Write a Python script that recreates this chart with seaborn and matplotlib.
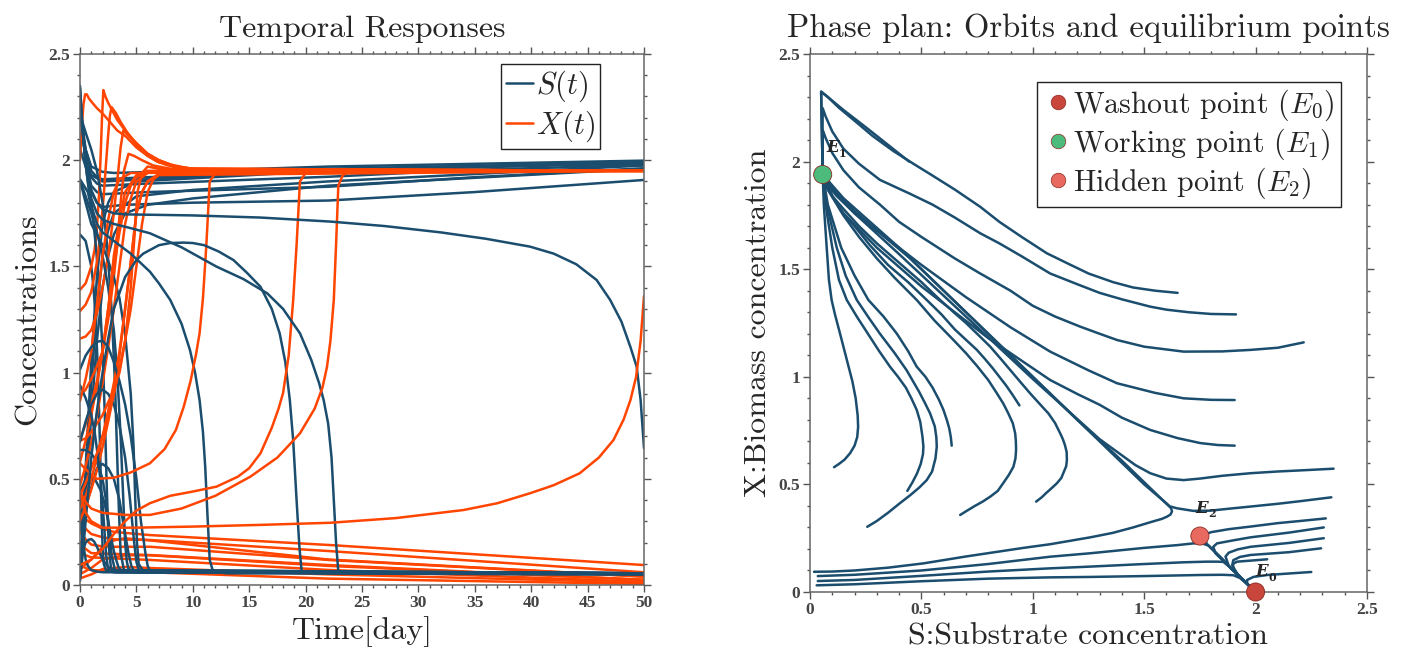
import numpy as np
import pandas as pd
import matplotlib
matplotlib.use("Agg")
import matplotlib.pyplot as plt
import seaborn as sns
from matplotlib.ticker import MultipleLocator, FuncFormatter
from matplotlib.lines import Line2D
from matplotlib.font_manager import FontProperties

# ---------------------------------------------------------------- colours
S_COLOR = "#1b4d6e"
X_COLOR = "#ff4500"
E_COLORS = ["#c9463d", "#4dbb7c", "#e8695f"]

# ---------------------------------------------------------------- equilibria
eq_S = [2.0, 0.057, 1.75]
eq_X = [0.0, 1.94, 0.26]
eq_names = ["Washout point", "Working point", "Hidden point"]
eq_tags = ["0", "1", "2"]

# ---------------------------------------------------------------- phase-plane orbits (S, X)
# orbits starting above the separatrix on the right and ending at E1
orbits_upper = [
    ([0.445, 0.35, 0.25, 0.15, 0.08, 0.05, 0.052, 0.055, 0.057],
     [2.0, 2.078, 2.16, 2.24, 2.30, 2.325, 2.2, 2.05, 1.94]),
    ([1.65, 1.55, 1.45, 1.36, 1.25, 1.15, 1.063, 0.95, 0.85, 0.764, 0.65, 0.55, 0.464, 0.373,
      0.28, 0.2, 0.13, 0.08, 0.05, 0.052, 0.055, 0.057],
     [1.39, 1.40, 1.415, 1.44, 1.48, 1.53, 1.574, 1.65, 1.72, 1.79, 1.87, 1.935, 1.99, 2.05,
      2.12, 2.19, 2.25, 2.30, 2.325, 2.2, 2.05, 1.94]),
    ([1.912, 1.8, 1.7, 1.6, 1.527, 1.4, 1.3, 1.2, 1.078, 0.95, 0.85, 0.764, 0.65, 0.55, 0.45,
      0.314, 0.22, 0.15, 0.1, 0.07, 0.057, 0.056, 0.057],
     [1.29, 1.292, 1.30, 1.312, 1.326, 1.36, 1.39, 1.43, 1.48, 1.56, 1.62, 1.667, 1.74, 1.80, 1.85,
      1.915, 1.99, 2.06, 2.14, 2.21, 2.248, 2.1, 1.94]),
    ([2.216, 2.1, 1.977, 1.85, 1.677, 1.5, 1.378, 1.3, 1.213, 1.1, 1.0, 0.9, 0.764, 0.65, 0.5,
      0.4, 0.314, 0.22, 0.15, 0.1, 0.07, 0.057, 0.057],
     [1.16, 1.135, 1.125, 1.118, 1.117, 1.14, 1.171, 1.2, 1.233, 1.28, 1.33, 1.40, 1.48, 1.55, 1.65,
      1.72, 1.80, 1.88, 1.96, 2.04, 2.11, 2.147, 1.94]),
    ([1.906, 1.8, 1.677, 1.55, 1.378, 1.25, 1.078, 0.9, 0.7, 0.5, 0.3, 0.2, 0.12, 0.08, 0.057],
     [0.892, 0.893, 0.9, 0.925, 0.97, 1.03, 1.117, 1.23, 1.37, 1.52, 1.68, 1.76, 1.84, 1.89, 1.94]),
    ([1.906, 1.83, 1.752, 1.65, 1.527, 1.4, 1.3, 1.2, 1.078, 0.8, 0.5, 0.3, 0.15, 0.08, 0.057],
     [0.68, 0.683, 0.692, 0.715, 0.753, 0.81, 0.87, 0.92, 0.985, 1.18, 1.42, 1.60, 1.76, 1.87, 1.94]),
    ([2.35, 2.2, 2.1, 1.977, 1.85, 1.75, 1.677, 1.6, 1.527, 1.46, 1.4, 1.3, 1.0, 0.7, 0.4, 0.2, 0.1, 0.057],
     [0.573, 0.565, 0.56, 0.552, 0.54, 0.527, 0.52, 0.527, 0.552, 0.59, 0.635, 0.71, 0.99, 1.28, 1.57,
      1.76, 1.87, 1.94]),
    ([2.34, 2.2, 2.1, 1.977, 1.88, 1.797, 1.72, 1.647, 1.615, 1.602, 1.5, 1.2, 0.8, 0.4, 0.15, 0.057],
     [0.44, 0.422, 0.41, 0.397, 0.387, 0.378, 0.377, 0.389, 0.398, 0.41, 0.5, 0.8, 1.2, 1.6, 1.83, 1.94]),
]

# orbits starting inside the basin of E1 (hook shaped)
orbits_inner = [
    ([0.108, 0.13, 0.155, 0.18, 0.2, 0.212, 0.216, 0.214, 0.205, 0.19, 0.17, 0.135, 0.112, 0.097, 0.085,
      0.075, 0.062, 0.057],
     [0.58, 0.595, 0.615, 0.645, 0.68, 0.72, 0.768, 0.82, 0.90, 0.98, 1.06, 1.2, 1.29, 1.357, 1.45,
      1.6, 1.8, 1.94]),
    ([0.437, 0.46, 0.48, 0.497, 0.507, 0.509, 0.505, 0.495, 0.479, 0.455, 0.43, 0.395, 0.359, 0.31, 0.26,
      0.21, 0.165, 0.13, 0.10, 0.07, 0.057],
     [0.47, 0.51, 0.55, 0.595, 0.64, 0.675, 0.72, 0.79, 0.846, 0.9, 0.95, 1.0, 1.047, 1.12, 1.2,
      1.28, 1.357, 1.45, 1.6, 1.8, 1.94]),
    ([0.257, 0.3, 0.35, 0.404, 0.45, 0.49, 0.524, 0.548, 0.563, 0.569, 0.567, 0.56, 0.539, 0.515, 0.49,
      0.462, 0.434, 0.38, 0.314, 0.26, 0.21, 0.16, 0.12, 0.075, 0.057],
     [0.303, 0.33, 0.368, 0.413, 0.45, 0.485, 0.52, 0.56, 0.62, 0.675, 0.72, 0.77, 0.83, 0.88, 0.93,
      0.98, 1.03, 1.11, 1.2, 1.28, 1.357, 1.47, 1.6, 1.8, 1.94]),
    ([0.636, 0.632, 0.625, 0.614, 0.599, 0.578, 0.55, 0.518, 0.479, 0.44, 0.39, 0.33, 0.262, 0.2, 0.14,
      0.08, 0.057],
     [0.68, 0.72, 0.76, 0.80, 0.846, 0.895, 0.95, 1.0, 1.047, 1.12, 1.2, 1.28, 1.357, 1.47, 1.6,
      1.8, 1.94]),
    ([0.674, 0.705, 0.74, 0.775, 0.809, 0.843, 0.87, 0.893, 0.913, 0.922, 0.925, 0.924, 0.921, 0.91,
      0.89, 0.868, 0.839, 0.8, 0.75, 0.7, 0.644, 0.56, 0.479, 0.38, 0.3, 0.22, 0.15, 0.08, 0.057],
     [0.358, 0.378, 0.40, 0.42, 0.443, 0.47, 0.51, 0.545, 0.582, 0.62, 0.66, 0.70, 0.737, 0.785,
      0.83, 0.875, 0.923, 0.985, 1.05, 1.11, 1.171, 1.26, 1.357, 1.46, 1.55, 1.65, 1.75, 1.87, 1.94]),
    ([0.94, 0.91, 0.88, 0.85, 0.82, 0.785, 0.749, 0.70, 0.65, 0.59, 0.524, 0.44, 0.35, 0.27, 0.2, 0.14,
      0.1, 0.057],
     [0.867, 0.915, 0.96, 1.0, 1.04, 1.083, 1.125, 1.172, 1.22, 1.29, 1.357, 1.44, 1.52, 1.61, 1.7, 1.77,
      1.84, 1.94]),
    ([1.015, 1.04, 1.06, 1.085, 1.108, 1.128, 1.14, 1.15, 1.153, 1.152, 1.145, 1.135, 1.123, 1.1, 1.07,
      1.03, 0.988, 0.945, 0.9, 0.855, 0.809, 0.755, 0.7, 0.645, 0.584, 0.5, 0.4, 0.3, 0.22, 0.15, 0.1,
      0.057],
     [0.42, 0.44, 0.46, 0.483, 0.505, 0.53, 0.56, 0.585, 0.613, 0.65, 0.68, 0.71, 0.737, 0.785, 0.83,
      0.875, 0.923, 0.975, 1.03, 1.085, 1.14, 1.195, 1.25, 1.30, 1.357, 1.44, 1.53, 1.62, 1.7, 1.78,
      1.84, 1.94]),
]

# orbits starting near the S axis with little biomass
orbits_lowleft = [
    ([0.018, 0.1, 0.2, 0.35, 0.509, 0.7, 0.958, 1.078, 1.258, 1.36, 1.45, 1.53, 1.58, 1.602, 1.618,
      1.625, 1.62, 1.6, 1.5, 1.4, 1.2, 1.0, 0.8, 0.6, 0.45, 0.3, 0.2, 0.12, 0.08, 0.057],
     [0.094, 0.095, 0.10, 0.113, 0.133, 0.165, 0.205, 0.222, 0.254, 0.275, 0.30, 0.325, 0.34, 0.35, 0.36,
      0.375, 0.39, 0.41, 0.51, 0.61, 0.80, 1.0, 1.2, 1.4, 1.55, 1.68, 1.77, 1.86, 1.9, 1.94]),
    ([0.035, 0.2, 0.5, 0.8, 1.078, 1.258, 1.5, 1.65, 1.722, 1.76, 1.79, 1.85, 1.9, 1.95, 1.99],
     [0.074, 0.08, 0.10, 0.13, 0.164, 0.18, 0.205, 0.218, 0.226, 0.226, 0.215, 0.155, 0.1, 0.05, 0.01]),
    ([0.035, 0.2, 0.5, 0.8, 1.078, 1.258, 1.5, 1.677, 1.78, 1.827, 1.855, 1.88, 1.93, 1.99],
     [0.051, 0.056, 0.075, 0.095, 0.11, 0.118, 0.13, 0.138, 0.141, 0.141, 0.14, 0.12, 0.07, 0.01]),
    ([0.03, 0.2, 0.5, 0.8, 1.078, 1.258, 1.5, 1.752, 1.85, 1.90, 1.93, 1.96, 1.99],
     [0.031, 0.036, 0.05, 0.062, 0.068, 0.07, 0.074, 0.079, 0.08, 0.078, 0.065, 0.04, 0.01]),
]

# orbits starting on the right below the separatrix, ending at E0
orbits_washout = [
    ([2.315, 2.2, 2.1, 1.977, 1.88, 1.8, 1.767, 1.78, 1.85, 1.95, 1.99],
     [0.342, 0.33, 0.32, 0.304, 0.292, 0.278, 0.265, 0.225, 0.15, 0.05, 0.01]),
    ([2.306, 2.15, 1.977, 1.9, 1.827, 1.81, 1.82, 1.9, 1.99],
     [0.30, 0.276, 0.254, 0.24, 0.226, 0.21, 0.18, 0.1, 0.01]),
    ([2.306, 2.15, 1.977, 1.92, 1.88, 1.865, 1.88, 1.95, 1.99],
     [0.25, 0.228, 0.21, 0.198, 0.183, 0.165, 0.12, 0.05, 0.01]),
    ([2.294, 2.15, 1.977, 1.93, 1.9, 1.895, 1.92, 1.99],
     [0.203, 0.185, 0.172, 0.163, 0.148, 0.125, 0.08, 0.01]),
    ([2.052, 1.98, 1.917, 1.9, 1.898, 1.93, 1.99],
     [0.152, 0.146, 0.141, 0.132, 0.11, 0.07, 0.01]),
    ([2.25, 2.15, 2.052, 1.99, 1.962, 1.962, 1.98, 2.0],
     [0.093, 0.086, 0.079, 0.07, 0.056, 0.04, 0.02, 0.0]),
]

# ---------------------------------------------------------------- temporal responses (t, value)
# each entry: (t for S, S, t for X, X)
runs_fast = [
    ([0, 0.1, 0.2, 0.35, 0.5, 0.7, 1, 1.5, 2, 50], [0.445, 0.33, 0.25, 0.17, 0.12, 0.09, 0.07, 0.063, 0.06, 0.055],
     [0, 0.1, 0.2, 0.3, 0.45, 0.6, 0.8, 1.1, 1.5, 2.0, 2.66, 3.3, 4.1, 5.0, 5.9, 6.8, 7.7, 8.8, 10, 12, 14, 50],
     [2.0, 2.1, 2.19, 2.26, 2.31, 2.31, 2.29, 2.27, 2.245, 2.22, 2.18, 2.14, 2.11, 2.06, 2.024, 1.995,
      1.977, 1.962, 1.955, 1.951, 1.95, 1.95]),
    ([0, 0.5, 1, 1.2, 1.4, 1.55, 1.7, 1.8, 1.9, 2.0, 2.1, 2.3, 3, 50],
     [1.65, 1.62, 1.5, 1.4, 1.25, 1.05, 0.8, 0.6, 0.35, 0.18, 0.1, 0.07, 0.06, 0.055],
     [0, 0.5, 1, 1.3, 1.5, 1.7, 1.85, 1.95, 2.07, 2.25, 2.5, 2.8, 3.3, 4, 5, 6, 7, 8, 9.5, 11, 50],
     [1.39, 1.42, 1.5, 1.58, 1.68, 1.85, 2.05, 2.2, 2.33, 2.30, 2.27, 2.24, 2.19, 2.14, 2.08, 2.03,
      2.0, 1.98, 1.963, 1.955, 1.95]),
    ([0, 0.7, 1.1, 1.4, 1.7, 2.0, 2.2, 2.35, 2.5, 2.6, 2.75, 3.2, 50],
     [1.91, 1.85, 1.75, 1.6, 1.4, 1.1, 0.8, 0.5, 0.25, 0.15, 0.08, 0.06, 0.055],
     [0, 0.5, 1, 1.5, 1.8, 2.1, 2.3, 2.5, 2.65, 2.8, 3.2, 3.6, 4.2, 5, 6, 7, 8.5, 10, 50],
     [1.29, 1.32, 1.38, 1.52, 1.65, 1.83, 1.98, 2.12, 2.21, 2.25, 2.22, 2.18, 2.13, 2.07, 2.02, 1.99,
      1.97, 1.96, 1.95]),
    ([0, 0.5, 1, 1.5, 2, 2.4, 2.8, 3.1, 3.3, 3.45, 3.6, 3.9, 4.5, 50],
     [2.216, 2.13, 2.05, 1.95, 1.8, 1.6, 1.3, 0.95, 0.6, 0.35, 0.15, 0.07, 0.06, 0.055],
     [0, 0.5, 1, 1.5, 2, 2.5, 3, 3.3, 3.6, 3.84, 4.2, 5, 6, 7, 8.5, 10, 50],
     [1.16, 1.17, 1.2, 1.28, 1.4, 1.55, 1.75, 1.9, 2.06, 2.14, 2.12, 2.08, 2.03, 2.0, 1.97, 1.96, 1.95]),
    ([0, 0.5, 1, 1.5, 2, 2.5, 3, 3.3, 3.6, 3.8, 4.0, 4.15, 4.3, 5, 50],
     [1.906, 1.83, 1.75, 1.66, 1.55, 1.4, 1.2, 1.0, 0.7, 0.45, 0.2, 0.11, 0.075, 0.06, 0.055],
     [0, 0.5, 1, 1.5, 2, 2.5, 3, 3.3, 3.6, 3.9, 4.3, 4.8, 5.5, 6.5, 8, 50],
     [0.892, 0.92, 0.97, 1.03, 1.1, 1.25, 1.45, 1.6, 1.8, 1.95, 2.03, 2.02, 2.0, 1.975, 1.96, 1.95]),
    ([0, 0.5, 1, 1.5, 2, 3, 3.5, 4, 4.5, 4.75, 4.9, 5.05, 5.2, 5.6, 50],
     [1.906, 1.8, 1.7, 1.65, 1.6, 1.45, 1.35, 1.18, 0.9, 0.65, 0.4, 0.2, 0.1, 0.065, 0.055],
     [0, 0.5, 1, 1.5, 2, 3, 3.5, 4, 4.5, 4.8, 5.1, 5.5, 6, 7, 8, 50],
     [0.68, 0.69, 0.72, 0.76, 0.8, 0.92, 1.0, 1.15, 1.4, 1.62, 1.85, 1.94, 1.97, 1.96, 1.955, 1.95]),
    ([0, 0.25, 0.5, 0.75, 1, 1.25, 1.5, 1.75, 2, 2.5, 3, 50],
     [0.108, 0.16, 0.2, 0.213, 0.216, 0.205, 0.18, 0.15, 0.12, 0.085, 0.07, 0.055],
     [0, 0.5, 1, 1.5, 2, 2.5, 3, 3.5, 4, 4.5, 5, 6, 7, 50],
     [0.58, 0.68, 0.8, 0.94, 1.1, 1.3, 1.5, 1.66, 1.8, 1.88, 1.92, 1.945, 1.95, 1.95]),
    ([0, 0.5, 1, 1.4, 1.8, 2.2, 2.5, 2.8, 3.0, 3.2, 3.4, 3.7, 50],
     [0.437, 0.5, 0.51, 0.49, 0.45, 0.38, 0.3, 0.21, 0.16, 0.12, 0.085, 0.065, 0.055],
     [0, 0.5, 1, 1.5, 2, 2.5, 3, 3.5, 4, 4.5, 5, 6, 7, 50],
     [0.47, 0.56, 0.67, 0.8, 0.95, 1.12, 1.3, 1.5, 1.7, 1.82, 1.9, 1.94, 1.95, 1.95]),
    ([0, 0.35, 0.7, 1.1, 1.5, 2, 2.5, 3, 3.5, 3.9, 4.3, 4.55, 4.8, 50],
     [0.257, 0.33, 0.4, 0.48, 0.55, 0.57, 0.55, 0.5, 0.4, 0.27, 0.15, 0.09, 0.065, 0.055],
     [0, 0.5, 1, 1.5, 2, 2.5, 3, 3.5, 4, 4.5, 5, 5.5, 6, 7, 8, 50],
     [0.303, 0.37, 0.45, 0.54, 0.65, 0.77, 0.9, 1.08, 1.3, 1.52, 1.75, 1.85, 1.9, 1.935, 1.95, 1.95]),
    ([0, 0.5, 1, 1.5, 2, 2.3, 2.55, 2.8, 3.1, 50],
     [0.636, 0.635, 0.62, 0.58, 0.5, 0.4, 0.28, 0.14, 0.07, 0.055],
     [0, 0.5, 1, 1.5, 2, 2.5, 3, 3.5, 4, 5, 6, 50],
     [0.68, 0.76, 0.85, 0.96, 1.1, 1.3, 1.55, 1.72, 1.85, 1.93, 1.95, 1.95]),
    ([0, 0.5, 1, 1.5, 2, 2.5, 3, 3.5, 4, 4.4, 4.8, 5.0, 5.2, 50],
     [0.674, 0.77, 0.85, 0.9, 0.92, 0.9, 0.85, 0.75, 0.6, 0.42, 0.2, 0.11, 0.07, 0.055],
     [0, 0.5, 1, 1.5, 2, 2.5, 3, 3.5, 4, 4.5, 5, 5.5, 6, 7, 8, 50],
     [0.358, 0.42, 0.5, 0.6, 0.7, 0.82, 0.95, 1.1, 1.3, 1.52, 1.75, 1.85, 1.9, 1.935, 1.95, 1.95]),
    ([0, 0.5, 1, 1.3, 1.6, 1.8, 2.0, 2.15, 2.3, 2.45, 2.6, 50],
     [0.94, 0.88, 0.8, 0.72, 0.6, 0.5, 0.38, 0.27, 0.15, 0.09, 0.065, 0.055],
     [0, 0.5, 1, 1.5, 2, 2.5, 3, 3.5, 4.5, 50],
     [0.867, 0.97, 1.1, 1.32, 1.55, 1.72, 1.85, 1.91, 1.94, 1.95]),
    ([0, 0.5, 1, 1.5, 2, 2.5, 3, 3.5, 4, 4.5, 5, 5.4, 5.8, 6.0, 6.2, 50],
     [1.015, 1.08, 1.12, 1.145, 1.15, 1.12, 1.05, 0.96, 0.85, 0.7, 0.5, 0.3, 0.15, 0.09, 0.065, 0.055],
     [0, 0.5, 1, 1.5, 2, 2.5, 3, 3.5, 4, 4.5, 5, 5.5, 6, 6.5, 7, 50],
     [0.42, 0.48, 0.55, 0.62, 0.7, 0.79, 0.9, 1.02, 1.15, 1.3, 1.5, 1.7, 1.85, 1.91, 1.93, 1.95]),
]

runs_slow = [
    ([0, 0.15, 0.3, 0.5, 0.8, 1.1, 1.5, 2, 3, 4.5, 6.2, 7, 8, 9, 9.75, 10.2, 10.6, 10.9, 11.1, 11.3,
      11.5, 11.8, 13, 50],
     [2.35, 2.22, 2.1, 1.98, 1.85, 1.77, 1.7, 1.66, 1.62, 1.56, 1.475, 1.42, 1.342, 1.23, 1.106, 1.0,
      0.871, 0.72, 0.557, 0.33, 0.118, 0.063, 0.055, 0.05],
     [0, 0.5, 1, 1.5, 3, 4.5, 6.2, 7.5, 8.5, 9.2, 9.8, 10.3, 10.6, 10.9, 11.2, 11.4, 11.5, 12, 13, 50],
     [0.573, 0.545, 0.52, 0.5, 0.505, 0.53, 0.573, 0.64, 0.73, 0.84, 0.96, 1.09, 1.185, 1.35, 1.6,
      1.8, 1.9, 1.94, 1.95, 1.95]),
    ([0, 0.25, 0.5, 0.75, 1, 1.5, 2, 2.5, 3, 4, 5, 5.6, 7, 8, 9.2, 10, 11, 12.3, 13.6, 14.8, 16, 17,
      17.7, 18.2, 18.6, 18.9, 19.2, 19.45, 19.65, 21, 50],
     [0.02, 0.15, 0.3, 0.45, 0.6, 0.82, 1.0, 1.16, 1.3, 1.45, 1.53, 1.56, 1.6, 1.61, 1.612, 1.61, 1.6,
      1.57, 1.53, 1.47, 1.404, 1.3, 1.185, 1.05, 0.871, 0.68, 0.4, 0.18, 0.063, 0.055, 0.05],
     [0, 1, 2, 3, 4, 5, 6.2, 8, 10, 12.1, 14, 15, 16, 17, 17.6, 18, 18.5, 18.9, 19.2, 19.4, 19.5, 20, 21, 50],
     [0.094, 0.12, 0.17, 0.24, 0.3, 0.35, 0.385, 0.42, 0.44, 0.463, 0.51, 0.55, 0.62, 0.74, 0.83, 0.903,
      1.08, 1.342, 1.6, 1.8, 1.9, 1.94, 1.95, 1.95]),
    ([0, 0.15, 0.3, 0.5, 0.7, 1, 1.5, 2, 3, 4.5, 6.2, 9, 12.1, 14.5, 16.6, 18, 19.5, 20.5, 21.2,
      21.6, 22, 22.3, 22.5, 22.7, 22.9, 24, 50],
     [2.34, 2.2, 2.1, 1.98, 1.9, 1.82, 1.75, 1.72, 1.7, 1.68, 1.656, 1.59, 1.499, 1.44, 1.373, 1.3,
      1.185, 1.06, 0.95, 0.871, 0.76, 0.6, 0.4, 0.2, 0.063, 0.055, 0.05],
     [0, 0.5, 1, 2, 4, 6.2, 9, 12, 15.1, 17.5, 19.5, 20.8, 21.5, 21.9, 22.2, 22.5, 22.7, 22.9, 23.3, 24, 50],
     [0.44, 0.39, 0.36, 0.34, 0.33, 0.33, 0.36, 0.42, 0.51, 0.6, 0.714, 0.83, 0.93, 1.028, 1.15,
      1.342, 1.6, 1.88, 1.93, 1.95, 1.95]),
    ([0, 0.2, 0.4, 0.7, 1, 1.5, 2, 3, 4, 10, 16, 22.2, 27, 32, 36, 39.9, 42, 44, 45.8, 47, 48, 48.8,
      49.35, 49.7, 50],
     [2.3, 2.15, 2.05, 1.93, 1.86, 1.8, 1.77, 1.75, 1.745, 1.74, 1.73, 1.711, 1.69, 1.66, 1.63, 1.593,
      1.56, 1.51, 1.436, 1.342, 1.24, 1.12, 1.028, 0.87, 0.644],
     [0, 0.5, 1, 2, 5, 10, 16, 22.2, 28, 34, 37, 39.9, 42, 44.3, 46, 47.3, 48.2, 48.8, 49.3, 49.7, 50],
     [0.44, 0.34, 0.3, 0.27, 0.27, 0.275, 0.283, 0.293, 0.315, 0.353, 0.385, 0.432, 0.47, 0.526, 0.6,
      0.683, 0.78, 0.871, 0.98, 1.15, 1.36]),
]

runs_washout = [
    ([0, 0.2, 0.5, 1, 1.5, 2, 4, 10, 22, 35, 50], [2.315, 2.15, 2.0, 1.85, 1.8, 1.78, 1.79, 1.8, 1.81, 1.85, 1.907],
     [0, 0.5, 1, 2, 3, 6.2, 22.2, 50], [0.342, 0.31, 0.29, 0.265, 0.25, 0.235, 0.188, 0.094]),
    ([0, 0.2, 0.5, 1, 1.5, 2, 6, 22, 35, 50], [2.306, 2.15, 2.0, 1.88, 1.85, 1.84, 1.85, 1.875, 1.92, 1.962],
     [0, 0.5, 1, 2, 3, 6.2, 22, 50], [0.30, 0.265, 0.24, 0.225, 0.215, 0.212, 0.16, 0.06]),
    ([0, 0.2, 0.5, 1, 1.5, 2, 6, 22, 35, 50], [2.306, 2.16, 2.02, 1.92, 1.89, 1.88, 1.89, 1.922, 1.955, 1.977],
     [0, 0.5, 1, 2, 3, 6.2, 22, 50], [0.25, 0.215, 0.19, 0.182, 0.18, 0.18, 0.118, 0.039]),
    ([0, 0.2, 0.5, 1, 1.5, 2, 6, 22, 50], [2.294, 2.17, 2.05, 1.95, 1.92, 1.91, 1.92, 1.95, 1.985],
     [0, 0.5, 1, 6.2, 22, 50], [0.203, 0.17, 0.15, 0.141, 0.094, 0.024]),
    ([0, 0.5, 1, 2, 6, 22, 50], [2.052, 1.97, 1.93, 1.9, 1.91, 1.96, 1.99],
     [0, 0.5, 1, 6.2, 22, 50], [0.152, 0.14, 0.13, 0.118, 0.071, 0.015]),
    ([0, 0.2, 0.5, 1, 2, 3, 10, 22, 50], [2.25, 2.14, 2.05, 1.97, 1.945, 1.94, 1.95, 1.97, 1.998],
     [0, 0.5, 1, 6.2, 22, 50], [0.093, 0.08, 0.07, 0.06, 0.03, 0.005]),
    ([0, 0.25, 0.5, 0.75, 1, 1.5, 2, 2.5, 3, 4, 6, 10, 22, 50],
     [0.035, 0.22, 0.4, 0.6, 0.8, 1.15, 1.4, 1.55, 1.65, 1.75, 1.79, 1.82, 1.88, 1.96],
     [0, 1, 2, 3, 4, 6.2, 22, 50], [0.074, 0.12, 0.18, 0.21, 0.22, 0.21, 0.12, 0.04]),
    ([0, 0.25, 0.5, 0.75, 1, 1.5, 2, 2.5, 3, 5, 10, 22, 50],
     [0.035, 0.27, 0.5, 0.73, 0.95, 1.3, 1.55, 1.67, 1.75, 1.83, 1.86, 1.9, 1.975],
     [0, 1, 2, 4, 6.2, 22, 50], [0.051, 0.08, 0.12, 0.14, 0.14, 0.09, 0.025]),
    ([0, 0.25, 0.5, 0.75, 1, 1.5, 2, 2.5, 3, 5, 22, 50],
     [0.03, 0.3, 0.55, 0.8, 1.05, 1.45, 1.7, 1.8, 1.85, 1.9, 1.95, 1.99],
     [0, 1, 2, 4, 6.2, 22, 50], [0.031, 0.05, 0.075, 0.085, 0.08, 0.05, 0.012]),
]

# ---------------------------------------------------------------- style
sns.set_theme(style="white")
plt.rcParams["font.family"] = ["cmr10", "DejaVu Serif"]
plt.rcParams["mathtext.fontset"] = "cm"
plt.rcParams["axes.formatter.use_mathtext"] = True

LW = 1.8
LABEL_SIZE = 23
TICK_SIZE = 12.5
TICK_PROPS = FontProperties(family="Liberation Serif", weight="bold", size=TICK_SIZE)

fig = plt.figure(figsize=(14.01, 6.57), dpi=100)
W, H = 1401, 657
ax_t = fig.add_axes([80 / W, 1 - 585 / H, (644 - 80) / W, (585 - 54) / H])
ax_p = fig.add_axes([810 / W, 1 - 592 / H, (1367 - 810) / W, (592 - 54) / H])


def style_axes(ax, xmaj, xmin):
    ax.xaxis.set_major_locator(MultipleLocator(xmaj))
    ax.xaxis.set_minor_locator(MultipleLocator(xmin))
    ax.yaxis.set_major_locator(MultipleLocator(0.5))
    ax.yaxis.set_minor_locator(MultipleLocator(0.1))
    fmt = FuncFormatter(lambda v, p: "%g" % round(v, 6))
    ax.xaxis.set_major_formatter(fmt)
    ax.yaxis.set_major_formatter(fmt)
    ax.tick_params(which="both", direction="out", top=True, right=True,
                   bottom=True, left=True, color="#555555", width=1.0, pad=2,
                   labelcolor="#444444", labelsize=TICK_SIZE,
                   labelfontfamily="Liberation Serif")
    ax.tick_params(which="major", length=5)
    ax.tick_params(which="minor", length=2.5)
    for sp in ax.spines.values():
        sp.set_visible(True)
        sp.set_color("#666666")
        sp.set_linewidth(1.1)
    ax.grid(False)


def draw_line(ax, xs, ys, color):
    sns.lineplot(x=np.asarray(xs, float), y=np.asarray(ys, float), ax=ax, color=color,
                 lw=LW, sort=False, estimator=None, legend=False)


# ---------------------------------------------------------------- temporal responses
for group in (runs_washout, runs_fast, runs_slow):
    for ts, sv, tx, xv in group:
        draw_line(ax_t, ts, sv, S_COLOR)
        draw_line(ax_t, tx, xv, X_COLOR)

ax_t.set_xlim(0, 50)
ax_t.set_ylim(0, 2.5)
style_axes(ax_t, 5, 1)
ax_t.set_title("Temporal Responses", fontsize=LABEL_SIZE, pad=12)
ax_t.set_xlabel("Time[day]", fontsize=LABEL_SIZE, labelpad=4)
ax_t.set_ylabel("Concentrations", fontsize=LABEL_SIZE, labelpad=5)
handles_t = [Line2D([], [], color=S_COLOR, lw=LW), Line2D([], [], color=X_COLOR, lw=LW)]
leg = ax_t.legend(handles_t, [r"$S(t)$", r"$X(t)$"], loc="upper right",
                  bbox_to_anchor=((600 - 80) / 564, (585 - 64) / 531), fontsize=22,
                  frameon=True, fancybox=False, edgecolor="#222222", framealpha=1,
                  handlelength=0.9, handletextpad=0.1, borderpad=0.15, labelspacing=0.15,
                  borderaxespad=0.0)
leg.get_frame().set_linewidth(1.0)

# ---------------------------------------------------------------- phase plane
for group in (orbits_upper, orbits_inner, orbits_lowleft, orbits_washout):
    for sv, xv in group:
        draw_line(ax_p, sv, xv, S_COLOR)

eq_df = pd.DataFrame({"S": eq_S, "X": eq_X, "name": eq_names})
sns.scatterplot(data=eq_df, x="S", y="X", hue="name", palette=E_COLORS, s=170,
                edgecolor="#8a2a22", linewidth=0.6, ax=ax_p, legend=False, zorder=5,
                clip_on=False)

tag_offsets = [(0.0, 0.055), (0.015, 0.085), (-0.02, 0.09)]
for sx, xx, tag, (dx, dy) in zip(eq_S, eq_X, eq_tags, tag_offsets):
    ax_p.text(sx + dx, xx + dy, "E", fontsize=12, family="DejaVu Serif",
              weight="bold", style="italic", ha="left", va="bottom", zorder=6)
    ax_p.text(sx + dx + 0.056, xx + dy - 0.012, tag, fontsize=8, family="DejaVu Serif",
              weight="bold", ha="left", va="bottom", zorder=6)

ax_p.set_xlim(0, 2.5)
ax_p.set_ylim(0, 2.5)
style_axes(ax_p, 0.5, 0.1)
ax_p.set_title("Phase plan: Orbits and equilibrium points", fontsize=LABEL_SIZE + 0.5, pad=12)
ax_p.set_xlabel("S:Substrate concentration", fontsize=LABEL_SIZE, labelpad=4)
ax_p.set_ylabel("X:Biomass concentration", fontsize=LABEL_SIZE, labelpad=5)
handles_p = [Line2D([], [], ls="none", marker="o", markersize=10.5, markerfacecolor=c,
                    markeredgecolor="#8a2a22", markeredgewidth=0.5) for c in E_COLORS]
labels_p = [rf"{n} $(E_{k})$" for n, k in zip(eq_names, eq_tags)]
leg2 = ax_p.legend(handles_p, labels_p, loc="upper right",
                   bbox_to_anchor=((1340.7 - 810) / 557, (592 - 81.7) / 538), fontsize=21.5,
                   frameon=True, fancybox=False, edgecolor="#222222", framealpha=1,
                   handletextpad=0.0, borderpad=0.2, labelspacing=0.12, borderaxespad=0.0,
                   handlelength=1.0)
leg2.get_frame().set_linewidth(1.0)

# bold serif tick labels (applied once the tick objects exist)
fig.canvas.draw()
for ax in (ax_t, ax_p):
    for lab in ax.get_xticklabels() + ax.get_yticklabels():
        lab.set_fontproperties(TICK_PROPS)
        lab.set_color("#444444")

fig.savefig("out.png", dpi=100, facecolor="white")
